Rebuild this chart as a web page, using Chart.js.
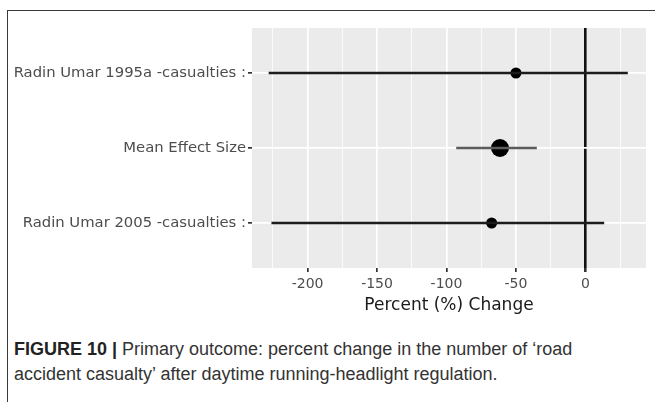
<!DOCTYPE html>
<html>
<head>
<meta charset="utf-8">
<script src="https://cdn.jsdelivr.net/npm/chart.js@4/dist/chart.umd.min.js"></script>
<style>
  html, body { margin: 0; padding: 0; background: #fff; }
  body { width: 655px; height: 402px; position: relative; overflow: hidden; }
  #frame { position: absolute; left: 7px; top: 10px; width: 660px; height: 400px;
           border-top: 1px solid #3a3a3a; border-left: 1px solid #3a3a3a; }
  #wrap { position: absolute; left: 0; top: 0; width: 655px; height: 316px; }
  #caption { position: absolute; left: 14px; top: 337px; width: 640px;
             font-family: "Liberation Sans", Arial, sans-serif; font-size: 18px;
             line-height: 25px; color: #333; white-space: nowrap; }
  #caption b { color: #222; }
</style>
</head>
<body>
<div id="frame"></div>
<div id="wrap"><canvas id="c" width="655" height="316"></canvas></div>
<div id="caption"><b>FIGURE 10 |</b> Primary outcome: percent change in the number of ‘road<br>accident casualty’ after daytime running-headlight regulation.</div>
<script>
// ---- data ----
const categories = ["Radin Umar 1995a -casualties :", "Mean Effect Size", "Radin Umar 2005 -casualties :"];
const estimate   = [-50, -61.5, -67.5];
const lowerCI    = [-228, -93, -226];
const upperCI    = [30.5, -35, 13.5];
const xTicks     = [-225, -200, -175, -150, -125, -100, -75, -50, -25, 0, 25];
const xLabelled  = [-200, -150, -100, -50, 0];
const xRange     = [-240, 43.6];

const barColors = ["#1c1c1c", "#5c5c5c", "#1c1c1c"];
const pointSizes = [5.5, 9, 5.5];

const datasets = categories.map((c, i) => ({
  type: 'line',
  data: [{x: lowerCI[i], y: i}, {x: upperCI[i], y: i}],
  borderColor: barColors[i],
  borderWidth: 2.6,
  pointRadius: 0,
  fill: false
}));
datasets.push({
  type: 'scatter',
  data: estimate.map((e, i) => ({x: e, y: i})),
  pointRadius: pointSizes,
  pointBackgroundColor: '#000',
  pointBorderWidth: 0
});

const panelBg = {
  id: 'panelBg',
  beforeDraw(chart) {
    const {ctx, chartArea: a} = chart;
    ctx.save();
    ctx.fillStyle = '#ebebeb';
    ctx.fillRect(a.left, a.top, a.right - a.left, a.bottom - a.top);
    ctx.restore();
  }
};

new Chart(document.getElementById('c'), {
  type: 'scatter',
  data: { datasets },
  plugins: [panelBg],
  options: {
    responsive: false,
    animation: false,
    layout: { padding: { top: 28, right: 5, left: 0, bottom: 0 } },
    plugins: { legend: { display: false }, tooltip: { enabled: false } },
    scales: {
      x: {
        type: 'linear',
        min: xRange[0], max: xRange[1],
        afterBuildTicks: s => { s.ticks = xTicks.map(v => ({ value: v })); },
        afterFit: s => { s.height = 48; },
        border: { display: false },
        grid: {
          color: ctx => (ctx.tick && ctx.tick.value === 0) ? '#111' : '#ffffff',
          lineWidth: ctx => {
            const v = ctx.tick ? ctx.tick.value : null;
            if (v === 0) return 2.6;
            return xLabelled.includes(v) ? 1.7 : 0.8;
          },
          tickColor: ctx => (ctx.tick && xLabelled.includes(ctx.tick.value)) ? '#333' : 'rgba(0,0,0,0)',
          tickLength: 4,
          drawTicks: true
        },
        ticks: {
          autoSkip: false,
          maxRotation: 0,
          padding: 4,
          color: '#4d4d4d',
          font: { family: 'DejaVu Sans', size: 14 },
          callback: v => xLabelled.includes(v) ? String(v) : ''
        },
        title: {
          display: true,
          text: 'Percent (%) Change',
          color: '#1a1a1a',
          font: { family: 'DejaVu Sans', size: 17 },
          padding: { top: 0, bottom: 0 }
        }
      },
      y: {
        type: 'linear',
        reverse: true,
        min: -0.6, max: 2.6,
        afterBuildTicks: s => { s.ticks = categories.map((c, i) => ({ value: i })); },
        afterFit: s => { s.width = 252; },
        border: { display: false },
        grid: {
          color: '#ffffff',
          lineWidth: 1.7,
          tickColor: '#333',
          tickLength: 4
        },
        ticks: {
          autoSkip: false,
          padding: 2,
          color: '#4d4d4d',
          font: { family: 'DejaVu Sans', size: 14.8 },
          callback: v => categories[v]
        }
      }
    }
  }
});
</script>
</body>
</html>
